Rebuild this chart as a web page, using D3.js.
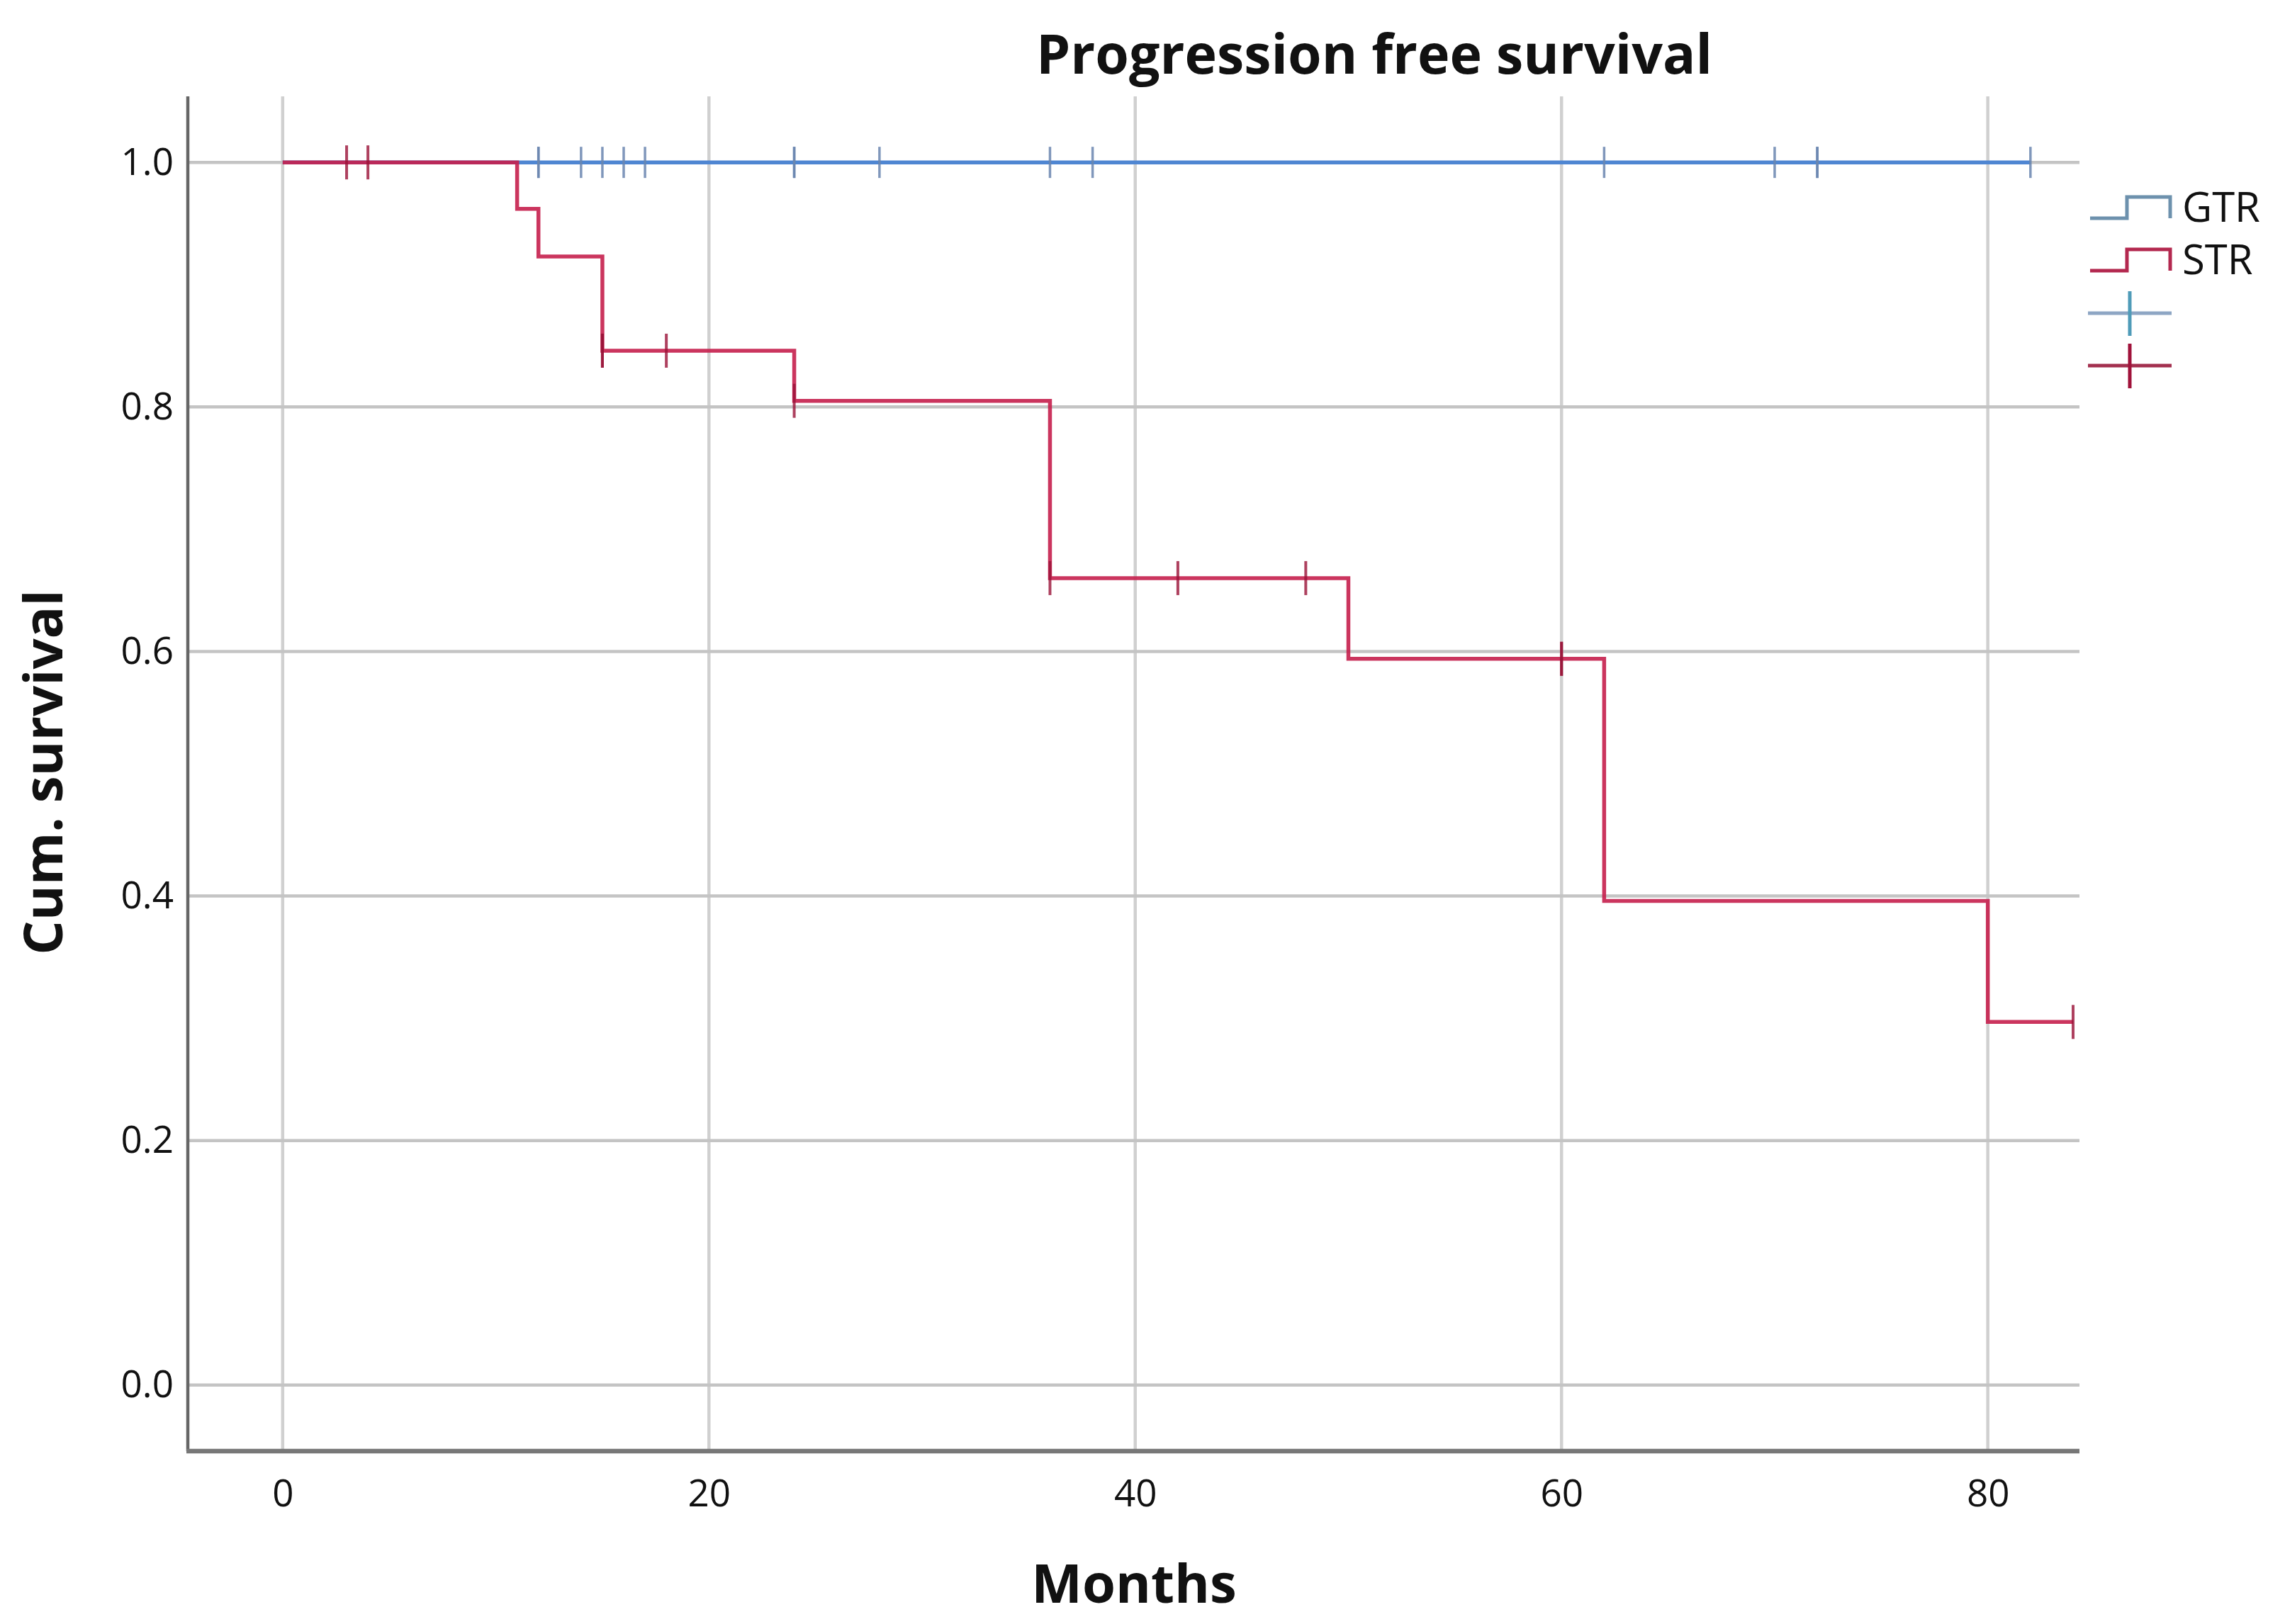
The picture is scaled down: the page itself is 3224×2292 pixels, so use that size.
<!DOCTYPE html>
<html>
<head>
<meta charset="utf-8">
<script src="https://cdn.jsdelivr.net/npm/d3@7"></script>
<style>
  html, body { margin: 0; padding: 0; background: #fff; }
  svg { display: block; }
  text { font-family: "Open Sans", "Noto Sans", sans-serif; fill: #111; }
</style>
</head>
<body>
<svg id="chart" width="3224" height="2292"></svg>
<script>
// ---- data ----
const groups = ["GTR", "STR"];
const gtrTimes = [0, 82];
const gtrSurv = [1.0, 1.0];
const gtrCensor = [12, 12, 14, 15, 16, 17, 24, 24, 28, 36, 38, 62, 70, 72, 72, 82];
const strTimes = [0, 11, 12, 15, 24, 36, 50, 62, 80, 84];
const strSurv = [1.0, 0.962, 0.923, 0.846, 0.805, 0.660, 0.594, 0.396, 0.297, 0.297];
const strCensor = [3, 4, 15, 15, 18, 24, 36, 42, 48, 60, 60, 84];
const xTicks = [0, 20, 40, 60, 80];
const yTicks = [0.0, 0.2, 0.4, 0.6, 0.8, 1.0];

// ---- layout ----
const L = 265, R = 2934, T = 136, B = 2048;
const x = d3.scaleLinear().domain([-4.45, 84.3]).range([L, R]);
const y = d3.scaleLinear().domain([-0.054, 1.054]).range([B, T]);

const svg = d3.select("#chart");
svg.append("rect").attr("width", 3224).attr("height", 2292).attr("fill", "#fff");

// gridlines
svg.append("g").selectAll("line").data(xTicks).join("line")
  .attr("x1", d => x(d)).attr("x2", d => x(d))
  .attr("y1", T).attr("y2", B)
  .attr("stroke", "#d0d0d0").attr("stroke-width", 4.5);
svg.append("g").selectAll("line").data(yTicks).join("line")
  .attr("x1", L).attr("x2", R)
  .attr("y1", d => y(d)).attr("y2", d => y(d))
  .attr("stroke", "#c4c4c4").attr("stroke-width", 4.5);

// axes (labels via d3 axes)
const xAxis = svg.append("g").attr("transform", `translate(0,${B})`)
  .call(d3.axisBottom(x).tickValues(xTicks).tickFormat(d3.format("d")).tickSize(0).tickPadding(40));
xAxis.select(".domain").remove();
xAxis.selectAll("text").attr("font-size", 53).attr("fill", "#111")
  .attr("font-family", '"Open Sans", "Noto Sans", sans-serif');

const yAxis = svg.append("g").attr("transform", `translate(${L},0)`)
  .call(d3.axisLeft(y).tickValues(yTicks).tickFormat(d3.format(".1f")).tickSize(0).tickPadding(20));
yAxis.select(".domain").remove();
yAxis.selectAll("text").attr("font-size", 53).attr("fill", "#111")
  .attr("font-family", '"Open Sans", "Noto Sans", sans-serif');

// axis lines
svg.append("line").attr("x1", L).attr("x2", L).attr("y1", T).attr("y2", B)
  .attr("stroke", "#666").attr("stroke-width", 4.5);
svg.append("line").attr("x1", L - 2).attr("x2", R).attr("y1", B).attr("y2", B)
  .attr("stroke", "#777").attr("stroke-width", 6.5);

// step lines
const step = d3.line().x(d => x(d[0])).y(d => y(d[1])).curve(d3.curveStepAfter);
const gtrPts = gtrTimes.map((t, i) => [t, gtrSurv[i]]);
const strPts = strTimes.map((t, i) => [t, strSurv[i]]);

function survAt(times, surv, t) {
  let s = surv[0];
  for (let i = 0; i < times.length; i++) if (times[i] <= t) s = surv[i];
  return s;
}

const blue = "#4f86d2", blueTick = "#6a86b0";
const red = "#c51f4c", redTick = "#9a1238";

svg.append("path").attr("d", step(gtrPts)).attr("fill", "none")
  .attr("stroke", blue).attr("stroke-width", 5.5);
svg.append("g").selectAll("line").data(gtrCensor).join("line")
  .attr("x1", d => x(d)).attr("x2", d => x(d))
  .attr("y1", d => y(survAt(gtrTimes, gtrSurv, d)) - 22)
  .attr("y2", d => y(survAt(gtrTimes, gtrSurv, d)) + 22)
  .attr("stroke", blueTick).attr("stroke-width", 3.5).attr("opacity", 0.85);

svg.append("path").attr("d", step(strPts)).attr("fill", "none")
  .attr("stroke", red).attr("stroke-width", 5.5).attr("opacity", 0.9);
svg.append("g").selectAll("line").data(strCensor).join("line")
  .attr("x1", d => x(d)).attr("x2", d => x(d))
  .attr("y1", d => y(survAt(strTimes, strSurv, d)) - 24)
  .attr("y2", d => y(survAt(strTimes, strSurv, d)) + 24)
  .attr("stroke", redTick).attr("stroke-width", 4).attr("opacity", 0.8);

// titles
svg.append("text").attr("x", 1939).attr("y", 104).attr("text-anchor", "middle")
  .attr("font-size", 77).attr("font-weight", "bold").text("Progression free survival");
svg.append("text").attr("x", 1600).attr("y", 2262).attr("text-anchor", "middle")
  .attr("font-size", 76).attr("font-weight", "bold").text("Months");
svg.append("text").attr("transform", "translate(88,1090) rotate(-90)").attr("text-anchor", "middle")
  .attr("font-size", 76).attr("font-weight", "bold").text("Cum. survival");

// legend
const legColors = ["#6d91ad", "#b3284f"];
const legY = [308, 382];
const legG = svg.append("g");
groups.forEach((g, i) => {
  const yb = legY[i], yt = yb - 30;
  legG.append("path")
    .attr("d", `M2949,${yb} H3001 V${yt} H3062 V${yb}`)
    .attr("fill", "none").attr("stroke", legColors[i]).attr("stroke-width", 5);
  legG.append("text").attr("x", 3079).attr("y", yb + 5).attr("font-size", 58).text(g);
});
// censor symbols in legend
const crossY = [442, 516];
const crossCol = [["#8ea6c4", "#4f9bb8"], ["#a3304f", "#a0123a"]];
crossY.forEach((cy, i) => {
  legG.append("line").attr("x1", 2946).attr("x2", 3064).attr("y1", cy).attr("y2", cy)
    .attr("stroke", crossCol[i][0]).attr("stroke-width", 5);
  legG.append("line").attr("x1", 3005).attr("x2", 3005).attr("y1", cy - 31).attr("y2", cy + 32)
    .attr("stroke", crossCol[i][1]).attr("stroke-width", 5);
});
</script>
</body>
</html>
